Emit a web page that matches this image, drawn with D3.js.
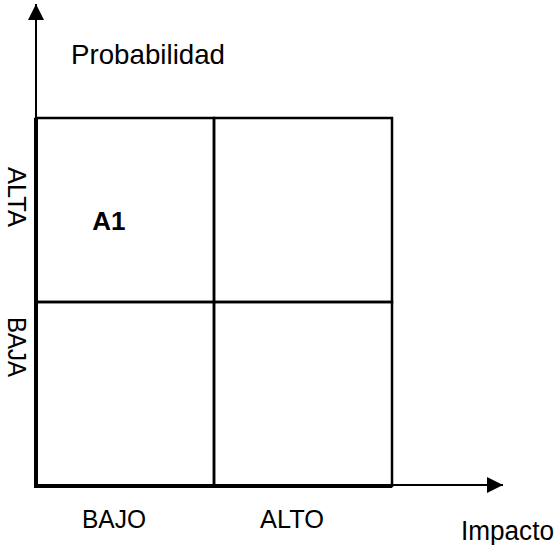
<!DOCTYPE html>
<html>
<head>
<meta charset="utf-8">
<script src="https://cdn.jsdelivr.net/npm/d3@7"></script>
<style>
  body { margin: 0; background: #fff; }
  text { font-family: "Liberation Sans", Arial, sans-serif; fill: #000; }
</style>
</head>
<body>
<div id="chart"></div>
<script>
// data
var impacto = ["BAJO", "ALTO"];
var probabilidad = ["ALTA", "BAJA"]; // top to bottom
var cellRows = ["ALTA", "ALTA", "BAJA", "BAJA"];
var cellCols = ["BAJO", "ALTO", "BAJO", "ALTO"];
var cellLabels = ["A1", "", "", ""];

var width = 556;
var height = 545;

var svg = d3.select("#chart").append("svg")
  .attr("width", width)
  .attr("height", height);

svg.append("rect")
  .attr("width", "100%")
  .attr("height", "100%")
  .attr("fill", "#ffffff");

var x = d3.scaleBand().domain(impacto).range([36, 392]);
var y = d3.scaleBand().domain(probabilidad).range([118, 486]);

// arrow heads
var defs = svg.append("defs");
defs.append("marker")
  .attr("id", "arrow")
  .attr("viewBox", "0 0 16 16")
  .attr("refX", 16)
  .attr("refY", 8)
  .attr("markerWidth", 16)
  .attr("markerHeight", 16)
  .attr("markerUnits", "userSpaceOnUse")
  .attr("orient", "auto")
  .append("path")
  .attr("d", "M0,0 L16,8 L0,16 Z")
  .attr("fill", "#000");

// grid cells
var cells = cellRows.map(function (r, i) {
  return { row: r, col: cellCols[i], label: cellLabels[i] };
});

svg.selectAll(".cell")
  .data(cells)
  .enter()
  .append("rect")
  .attr("class", "cell")
  .attr("x", function (d) { return x(d.col); })
  .attr("y", function (d) { return y(d.row); })
  .attr("width", x.bandwidth())
  .attr("height", y.bandwidth())
  .attr("fill", "none")
  .attr("stroke", "#000")
  .attr("stroke-width", 2.5);

// axes (thicker on the grid edge)
var x0 = x.range()[0], y0 = y.range()[1];
svg.append("line")
  .attr("x1", x0).attr("y1", y0)
  .attr("x2", x0).attr("y2", y.range()[0])
  .attr("stroke", "#000").attr("stroke-width", 4);
svg.append("line")
  .attr("x1", x0 - 2).attr("y1", y0)
  .attr("x2", x.range()[1]).attr("y2", y0)
  .attr("stroke", "#000").attr("stroke-width", 4);

svg.append("line")
  .attr("x1", x0).attr("y1", y0)
  .attr("x2", x0).attr("y2", 4)
  .attr("stroke", "#000").attr("stroke-width", 2)
  .attr("marker-end", "url(#arrow)");
svg.append("line")
  .attr("x1", x0).attr("y1", y0 - 1)
  .attr("x2", 503).attr("y2", y0 - 1)
  .attr("stroke", "#000").attr("stroke-width", 2)
  .attr("marker-end", "url(#arrow)");

// cell labels
svg.selectAll(".cellLabel")
  .data(cells.filter(function (d) { return d.label; }))
  .enter()
  .append("text")
  .attr("class", "cellLabel")
  .attr("x", function (d) { return x(d.col) + x.bandwidth() * 0.41; })
  .attr("y", function (d) { return y(d.row) + y.bandwidth() / 2 + 20; })
  .attr("text-anchor", "middle")
  .style("font-size", "26px")
  .style("font-weight", "bold")
  .text(function (d) { return d.label; });

// category labels
svg.selectAll(".xLabel")
  .data(impacto)
  .enter()
  .append("text")
  .attr("class", "xLabel")
  .attr("x", function (d) { return x(d) + x.bandwidth() / 2 - 11; })
  .attr("y", 528)
  .attr("text-anchor", "middle")
  .attr("textLength", 64)
  .attr("lengthAdjust", "spacingAndGlyphs")
  .style("font-size", "26px")
  .text(function (d) { return d; });

var yShift = { ALTA: -13, BAJA: -47 };
svg.selectAll(".yLabel")
  .data(probabilidad)
  .enter()
  .append("text")
  .attr("class", "yLabel")
  .attr("transform", function (d) {
    return "translate(8," + (y(d) + y.bandwidth() / 2 + yShift[d]) + ") rotate(90)";
  })
  .attr("text-anchor", "middle")
  .attr("textLength", 60)
  .attr("lengthAdjust", "spacingAndGlyphs")
  .style("font-size", "26px")
  .text(function (d) { return d; });

// axis titles
svg.append("text")
  .attr("x", 71)
  .attr("y", 64)
  .attr("textLength", 154)
  .attr("lengthAdjust", "spacingAndGlyphs")
  .style("font-size", "28px")
  .text("Probabilidad");

svg.append("text")
  .attr("x", 461)
  .attr("y", 540)
  .attr("textLength", 93)
  .attr("lengthAdjust", "spacingAndGlyphs")
  .style("font-size", "27px")
  .text("Impacto");
</script>
</body>
</html>
